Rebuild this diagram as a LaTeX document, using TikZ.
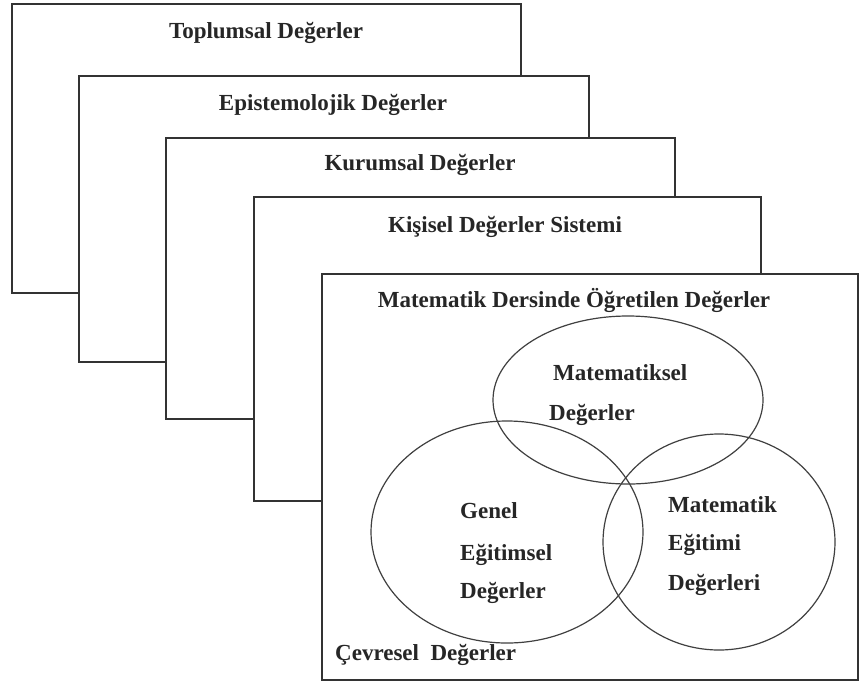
\documentclass[tikz,border=0pt]{standalone}
\usepackage{fontspec}
\setmainfont{Liberation Serif}
\begin{document}
\begin{tikzpicture}[x=1pt,y=-1pt,
  katman/.style={draw=black!80, line width=1.8pt, fill=white},
  halka/.style={draw=black!75, line width=1.2pt},
  baslik/.style={anchor=base, inner sep=0pt, text=black!85, font=\fontsize{23}{27}\selectfont\bfseries},
  etiket/.style={anchor=base west, inner sep=0pt, text=black!85, font=\fontsize{23}{27}\selectfont\bfseries}]
\useasboundingbox (0,0) rectangle (861,686);
% stacked layers
\draw[katman] (12,4) rectangle (521,293);
\draw[katman] (79,76) rectangle (589,362);
\draw[katman] (166,138) rectangle (675,419);
\draw[katman] (254,197) rectangle (761,501);
\draw[katman] (322,274) rectangle (858,680);
\node[baslik] (toplumsal) at (266,38) {Toplumsal Değerler};
\node[baslik] (epistemo) at (333,110) {Epistemolojik Değerler};
\node[baslik] (kurumsal) at (420,170) {Kurumsal Değerler};
\node[baslik] (kisisel) at (505,232) {Kişisel Değerler Sistemi};
\node[baslik] (ders) at (574,307) {Matematik Dersinde Öğretilen Değerler};
% venn
\draw[halka] (628,400) ellipse (135 and 84);
\draw[halka] (507,532) ellipse (136 and 111);
\draw[halka] (719,542) ellipse (116 and 108);
\node[etiket] (matsel1) at (553,380) {Matematiksel};
\node[etiket] (matsel2) at (549,420) {Değerler};
\node[etiket] (genel1) at (460,518) {Genel};
\node[etiket] (genel2) at (460,560) {Eğitimsel};
\node[etiket] (genel3) at (460,598) {Değerler};
\node[etiket] (egitim1) at (668,512) {Matematik};
\node[etiket] (egitim2) at (668,550) {Eğitimi};
\node[etiket] (egitim3) at (668,590) {Değerleri};
\node[etiket] (cevre) at (335,660) {Çevresel\ \ Değerler};
\end{tikzpicture}
\end{document}
